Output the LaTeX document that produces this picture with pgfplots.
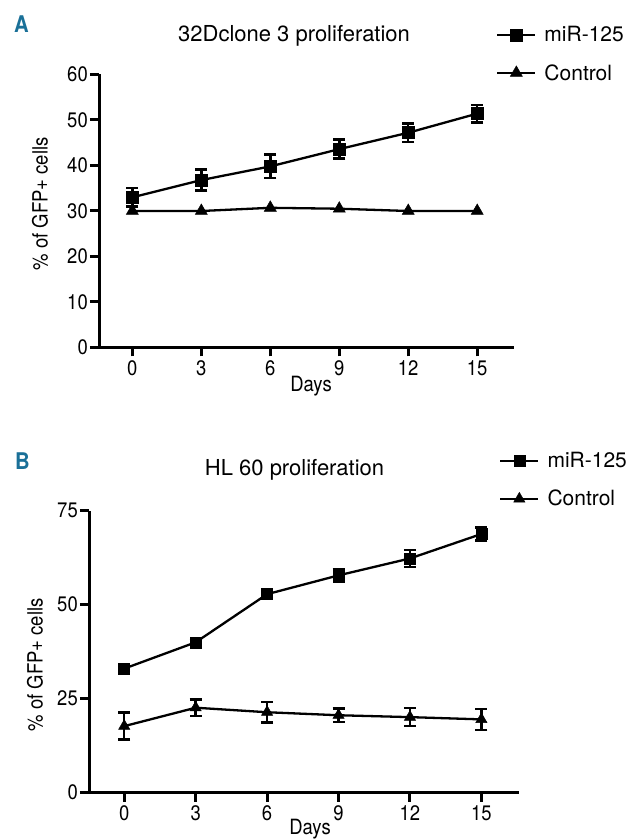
\documentclass[border=0pt]{standalone}
\usepackage{fontspec}
\setmainfont{TeX Gyre Heros}
\newfontfamily\cond{TeX Gyre Heros}[FakeStretch=0.88]
\usepackage{pgfplots}
\pgfplotsset{compat=1.18}
\definecolor{panelblue}{RGB}{26,112,152}

\newcommand\txt{\fontsize{21}{24}\selectfont}

\pgfplotsset{
  prolif/.style={
    scale only axis,
    anchor=south west,
    axis x line*=bottom,
    axis y line*=left,
    x axis line style={-},
    y axis line style={-},
    axis line style={line width=3pt},
    tick align=outside,
    major tick length=9pt,
    tick style={line width=3pt, black},
    xtick={0,3,...,15},
    /pgf/number format/assume math mode=true,
    tick label style={font=\cond\txt},
    yticklabel style={inner sep=2pt},
    xticklabel style={inner sep=4pt},
    xlabel={Days},
    ylabel={\% of GFP+ cells},
    legend cell align=left,
    legend style={draw=none, fill=none, font=\txt, anchor=west,
      inner sep=0pt, row sep=17pt,
      /tikz/every odd column/.append style={column sep=6pt}},
    legend image code/.code={
      \draw[mark repeat=2, mark phase=2, #1]
        plot coordinates {(0pt,0pt) (19pt,0pt) (38pt,0pt)};},
  },
  errs/.style={
    error bars/.cd, y dir=both, y explicit,
    error bar style={line width=2.5pt},
    error mark options={rotate=90, mark size=6pt, line width=2.5pt},
  },
  sq/.style={black, line width=2.3pt, mark=square*,
    mark options={solid, fill=black, line width=0.5pt}},
  tri/.style={black, line width=2.3pt, mark=triangle*,
    mark options={solid, fill=black, line width=0.5pt}},
}

\begin{document}
\begin{tikzpicture}
\useasboundingbox (0pt,0pt) rectangle (630pt,840pt);

\node[anchor=base west, inner sep=0pt, text=panelblue,
  font=\cond\fontsize{23}{26}\selectfont\bfseries] at (14pt,807pt) {A};
\node[anchor=base west, inner sep=0pt, text=panelblue,
  font=\cond\fontsize{23}{26}\selectfont\bfseries] at (15pt,370pt) {B};

% panel A
\begin{axis}[prolif,
  at={(99pt,492.5pt)}, width=415pt, height=273pt,
  xmin=-1.45, xmax=16.6, ymin=0, ymax=60,
  ytick={0,10,...,60},
  title={32Dclone 3 proliferation},
  every axis title/.style={at={(axis description cs:0.47,1.1227)},
    anchor=base, font=\fontsize{22}{26}\selectfont},
  every axis x label/.style={at={(axis description cs:0.511,-0.162)},
    anchor=base, font=\cond\txt},
  every axis y label/.style={at={(axis description cs:-0.142,0.526)},
    rotate=90, anchor=center, font=\cond\txt},
  legend style={at={(axis description cs:0.9566,1.075)}},
]
\addplot[sq, mark size=6pt, errs]
  coordinates {
  (0,33.0) +- (0,2.0)
  (3,36.8) +- (0,2.3)
  (6,39.8) +- (0,2.6)
  (9,43.6) +- (0,2.1)
  (12,47.2) +- (0,2.0)
  (15,51.4) +- (0,1.9)
};
\addlegendentry{miR-125}
\addplot[tri, mark size=7pt]
  coordinates {
  (0,30.0) (3,30.0) (6,30.7) (9,30.5) (12,30.0) (15,30.0)
};
\addlegendentry{Control}
\end{axis}

% panel B
\begin{axis}[prolif,
  at={(89pt,47.3pt)}, width=430pt, height=282pt,
  xmin=-1.48, xmax=16.58, ymin=0, ymax=75,
  ytick={0,25,50,75},
  title={HL 60 proliferation},
  every axis title/.style={at={(axis description cs:0.478,1.125)},
    anchor=base, font=\fontsize{22}{26}\selectfont},
  every axis x label/.style={at={(axis description cs:0.514,-0.147)},
    anchor=base, font=\cond\txt},
  every axis y label/.style={at={(axis description cs:-0.1256,0.453)},
    rotate=90, anchor=center, font=\cond\txt},
  legend style={at={(axis description cs:0.9535,1.109)}},
]
\addplot[sq, mark size=5.5pt, errs]
  coordinates {
  (0,33.0) +- (0,0.6)
  (3,40.0) +- (0,0.6)
  (6,52.8) +- (0,0.6)
  (9,57.8) +- (0,1.7)
  (12,62.3) +- (0,2.3)
  (15,68.8) +- (0,1.7)
};
\addlegendentry{miR-125}
\addplot[tri, mark size=6.5pt, errs]
  coordinates {
  (0,17.7) +- (0,3.6)
  (3,22.6) +- (0,2.2)
  (6,21.4) +- (0,2.7)
  (9,20.6) +- (0,1.8)
  (12,20.1) +- (0,2.4)
  (15,19.5) +- (0,2.8)
};
\addlegendentry{Control}
\end{axis}
\end{tikzpicture}
\end{document}
